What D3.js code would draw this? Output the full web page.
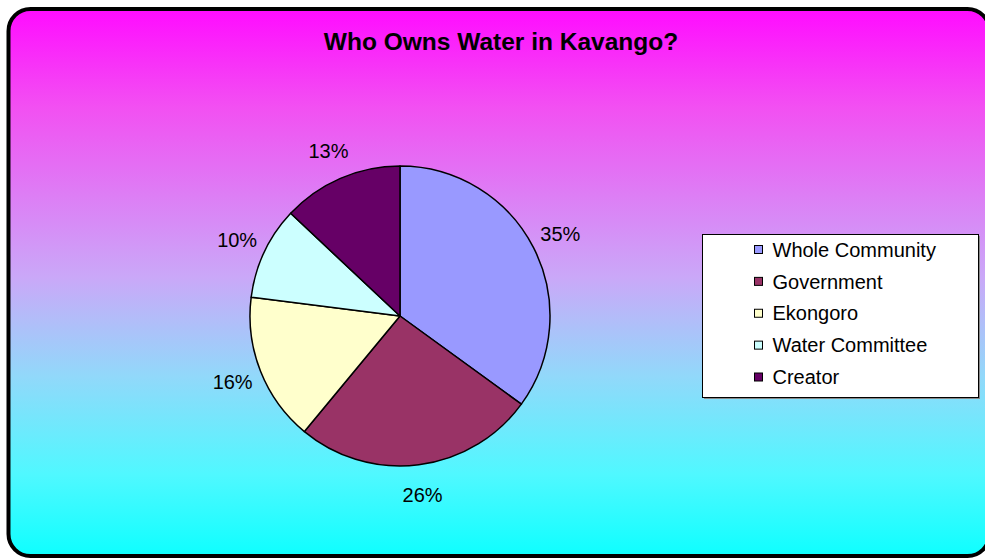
<!DOCTYPE html>
<html><head><meta charset="utf-8">
<script src="https://cdn.jsdelivr.net/npm/d3@7"></script>
<style>html,body{margin:0;padding:0;background:#fff;overflow:hidden}svg{display:block}text{font-family:"Liberation Sans",Arial,sans-serif}</style>
</head><body>
<script>
const title = "Who Owns Water in Kavango?";
const categories = ["Whole Community","Government","Ekongoro","Water Committee","Creator"];
const values = [35,26,16,10,13];
const colors = ["#9999FF","#993366","#FFFFCC","#CCFFFF","#660066"];

const W=985,H=558;
const svg=d3.select("body").append("svg").attr("width",W).attr("height",H);
const defs=svg.append("defs");
const g=defs.append("linearGradient").attr("id","bg").attr("x1",0).attr("y1",0).attr("x2",0).attr("y2",1);
[[0,"rgb(255,12,255)"],[0.18,"rgb(242,80,242)"],[0.49,"rgb(202,168,248)"],[0.67,"rgb(146,216,250)"],[0.85,"rgb(80,248,255)"],[1,"rgb(14,255,255)"]]
 .forEach(s=>g.append("stop").attr("offset",s[0]).attr("stop-color",s[1]));

svg.append("rect").attr("x",8.5).attr("y",9).attr("width",981).attr("height",547).attr("rx",22).attr("ry",22)
  .attr("fill","url(#bg)").attr("stroke","#000").attr("stroke-width",4);

svg.append("text").attr("x",501).attr("y",50).attr("text-anchor","middle")
  .attr("font-weight","bold").attr("font-size",24.5).text(title);

const cx=400,cy=316,r=150;
const pie=d3.pie().sort(null).value(d=>d)(values);
const arc=d3.arc().innerRadius(0).outerRadius(r);
const gp=svg.append("g").attr("transform",`translate(${cx},${cy})`);
gp.selectAll("path").data(pie).join("path").attr("d",arc)
  .attr("fill",(d,i)=>colors[i]).attr("stroke","#000").attr("stroke-width",1.5).attr("stroke-linejoin","round");
const total=d3.sum(values);
const lr=180;
gp.selectAll("text.lab").data(pie).join("text").attr("class","lab")
  .attr("x",d=>lr*Math.sin((d.startAngle+d.endAngle)/2))
  .attr("y",d=>-lr*Math.cos((d.startAngle+d.endAngle)/2))
  .attr("dy","0.36em").attr("text-anchor","middle").attr("font-size",20).attr("fill","#000")
  .text(d=>Math.round(d.value/total*100)+"%");

// legend
const lx=702.5, ly=234.5, lw=276, lh=163;
svg.append("rect").attr("x",lx+1.5).attr("y",ly+1.5).attr("width",lw).attr("height",lh).attr("fill","#888");
svg.append("rect").attr("x",lx).attr("y",ly).attr("width",lw).attr("height",lh).attr("fill","#fff").attr("stroke","#000").attr("stroke-width",1);
const ry=d3.scalePoint().domain(categories).range([249.5,377]);
const lg=svg.append("g");
lg.selectAll("rect").data(categories).join("rect")
  .attr("x",754.5).attr("y",d=>ry(d)-4).attr("width",8).attr("height",8)
  .attr("fill",(d,i)=>colors[i]).attr("stroke","#000").attr("stroke-width",1);
lg.selectAll("text").data(categories).join("text")
  .attr("x",772.5).attr("y",d=>ry(d)).attr("dy","0.36em").attr("font-size",20).text(d=>d);
</script>
</body></html>
